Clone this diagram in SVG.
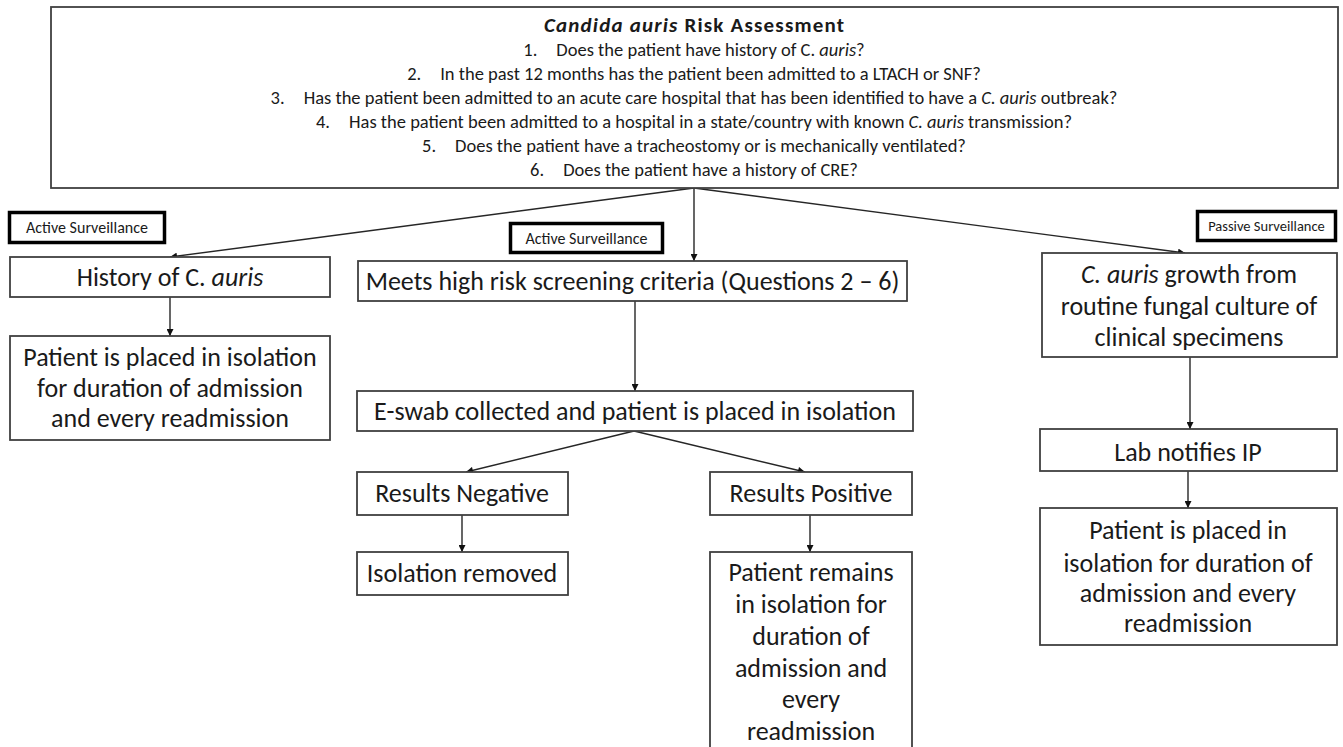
<svg xmlns="http://www.w3.org/2000/svg" width="1343" height="747" viewBox="0 0 1343 747">
<style>
.box{fill:#fff;stroke:#404040;stroke-width:1.8}
.lbl{fill:#fff;stroke:#000;stroke-width:3.5}
.t{font-family:Carlito,Lato,"Open Sans",sans-serif;fill:#1a1a1a;text-anchor:middle}
.q{font-size:18.5px}
.b{font-size:26px}
.s{font-size:16px}
.p{font-size:14.5px}
.c{stroke:#262626;stroke-width:1.4;fill:none;marker-end:url(#ah)}
</style>
<defs>
<marker id="ah" viewBox="0 0 10 10" refX="10" refY="5" markerWidth="8" markerHeight="7" markerUnits="userSpaceOnUse" orient="auto">
<path d="M0,0 L10,5 L0,10 z" fill="#111"/>
</marker>
</defs>
<rect width="1343" height="747" fill="#fff"/>
<g id="connectors">
<line class="c" x1="694" y1="188" x2="170" y2="257"/>
<line class="c" x1="694" y1="188" x2="694" y2="261"/>
<line class="c" x1="694" y1="188" x2="1185" y2="253"/>
<line class="c" x1="170" y1="297" x2="170" y2="336"/>
<line class="c" x1="635" y1="301" x2="635" y2="391"/>
<line class="c" x1="634" y1="431" x2="466" y2="472"/>
<line class="c" x1="634" y1="431" x2="805" y2="472"/>
<line class="c" x1="462" y1="515" x2="462" y2="552"/>
<line class="c" x1="810" y1="515" x2="810" y2="552"/>
<line class="c" x1="1190" y1="357" x2="1190" y2="429"/>
<line class="c" x1="1188" y1="471" x2="1188" y2="508"/>
</g>
<g id="risk-assessment">
<rect class="box" x="51" y="7" width="1287" height="181"/>
<text class="t" x="694" y="32" font-size="21" font-weight="bold" textLength="300" lengthAdjust="spacing"><tspan font-style="italic">Candida auris</tspan> Risk Assessment</text>
<text class="t q" x="694" y="56">1.<tspan dx="19">Does the patient have history of C. </tspan><tspan font-style="italic">auris</tspan>?</text>
<text class="t q" x="694" y="80">2.<tspan dx="19">In the past 12 months has the patient been admitted to a LTACH or SNF?</tspan></text>
<text class="t q" x="694" y="104">3.<tspan dx="19">Has the patient been admitted to an acute care hospital that has been identified to have a </tspan><tspan font-style="italic">C. auris</tspan> outbreak?</text>
<text class="t q" x="694" y="128">4.<tspan dx="19">Has the patient been admitted to a hospital in a state/country with known </tspan><tspan font-style="italic">C. auris</tspan> transmission?</text>
<text class="t q" x="694" y="152">5.<tspan dx="19">Does the patient have a tracheostomy or is mechanically ventilated?</tspan></text>
<text class="t q" x="694" y="176">6.<tspan dx="19">Does the patient have a history of CRE?</tspan></text>
</g>
<g id="label-active-1">
<rect class="lbl" x="9.5" y="212.5" width="155" height="30"/>
<text class="t s" x="87" y="233">Active Surveillance</text>
</g>
<g id="label-active-2">
<rect class="lbl" x="510.5" y="223.5" width="152" height="29"/>
<text class="t s" x="586.5" y="243.5">Active Surveillance</text>
</g>
<g id="label-passive">
<rect class="lbl" x="1197.5" y="211.5" width="138" height="29"/>
<text class="t p" x="1266.5" y="231">Passive Surveillance</text>
</g>
<g id="history">
<rect class="box" x="10" y="257" width="320" height="40"/>
<text class="t b" x="170" y="286">History of C. <tspan font-style="italic">auris</tspan></text>
</g>
<g id="meets-criteria">
<rect class="box" x="358" y="261" width="549" height="40"/>
<text class="t b" x="632.5" y="290">Meets high risk screening criteria (Questions 2 – 6)</text>
</g>
<g id="growth">
<rect class="box" x="1042" y="253" width="295" height="104"/>
<text class="t b" x="1189" y="283"><tspan font-style="italic">C. auris</tspan> growth from</text>
<text class="t b" x="1189" y="315">routine fungal culture of</text>
<text class="t b" x="1189" y="346">clinical specimens</text>
</g>
<g id="isolation-left">
<rect class="box" x="10" y="336" width="320" height="104"/>
<text class="t b" x="170" y="366">Patient is placed in isolation</text>
<text class="t b" x="170" y="397">for duration of admission</text>
<text class="t b" x="170" y="427">and every readmission</text>
</g>
<g id="eswab">
<rect class="box" x="357" y="391" width="556" height="40"/>
<text class="t b" x="635" y="420">E-swab collected and patient is placed in isolation</text>
</g>
<g id="results-negative">
<rect class="box" x="357" y="472" width="211" height="43"/>
<text class="t b" x="462" y="502">Results Negative</text>
</g>
<g id="results-positive">
<rect class="box" x="710" y="472" width="202" height="43"/>
<text class="t b" x="811" y="502">Results Positive</text>
</g>
<g id="isolation-removed">
<rect class="box" x="357" y="552" width="211" height="43"/>
<text class="t b" x="462" y="582">Isolation removed</text>
</g>
<g id="remains-isolation">
<rect class="box" x="710" y="552" width="202" height="205"/>
<text class="t b" x="811" y="581">Patient remains</text>
<text class="t b" x="811" y="613">in isolation for</text>
<text class="t b" x="811" y="645">duration of</text>
<text class="t b" x="811" y="677">admission and</text>
<text class="t b" x="811" y="708">every</text>
<text class="t b" x="811" y="740">readmission</text>
</g>
<g id="lab-notifies">
<rect class="box" x="1040" y="429" width="297" height="42"/>
<text class="t b" x="1188" y="461">Lab notifies IP</text>
</g>
<g id="isolation-right">
<rect class="box" x="1040" y="508" width="297" height="137"/>
<text class="t b" x="1188" y="539">Patient is placed in</text>
<text class="t b" x="1188" y="572">isolation for duration of</text>
<text class="t b" x="1188" y="602">admission and every</text>
<text class="t b" x="1188" y="632">readmission</text>
</g>
</svg>
